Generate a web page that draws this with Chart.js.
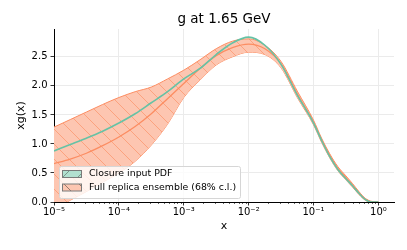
<!DOCTYPE html>
<html>
<head>
<meta charset="utf-8">
<script src="https://cdn.jsdelivr.net/npm/chart.js@4.4.0/dist/chart.umd.min.js"></script>
<style>
  html, body { margin: 0; padding: 0; background: #fff; }
  #wrap { width: 407px; height: 250px; }
</style>
</head>
<body>
<div id="wrap"><canvas id="pdf-chart" width="407" height="250"></canvas></div>
<script>
// x grid (log spaced)
const xValues = [1e-5, 1.78e-5, 3.16e-5, 5.62e-5, 1e-4, 1.78e-4, 3.16e-4, 5.62e-4,
  1e-3, 1.78e-3, 3.16e-3, 5.62e-3, 1e-2, 1.78e-2, 3.16e-2, 5.62e-2,
  0.1, 0.133, 0.178, 0.237, 0.316, 0.398, 0.501, 0.631, 0.794, 1.0];

const closurePdf = [0.88, 0.99, 1.10, 1.22, 1.36, 1.52, 1.71, 1.90,
  2.12, 2.30, 2.54, 2.74, 2.84, 2.70, 2.37, 1.84,
  1.36, 1.06, 0.78, 0.56, 0.40, 0.28, 0.15, 0.04, 0.0, 0.0];

const replicaMean = [0.66, 0.74, 0.84, 0.97, 1.12, 1.30, 1.52, 1.78,
  2.04, 2.30, 2.52, 2.66, 2.72, 2.64, 2.38, 1.86,
  1.37, 1.07, 0.80, 0.58, 0.42, 0.29, 0.16, 0.05, 0.0, 0.0];

const replicaUpper = [1.29, 1.42, 1.55, 1.68, 1.80, 1.90, 1.98, 2.12,
  2.27, 2.45, 2.64, 2.77, 2.81, 2.70, 2.42, 1.91,
  1.41, 1.10, 0.83, 0.61, 0.45, 0.32, 0.18, 0.06, 0.01, 0.0];

const replicaLower = [-0.12, 0.03, 0.18, 0.34, 0.50, 0.70, 0.98, 1.34,
  1.80, 2.10, 2.36, 2.50, 2.58, 2.54, 2.31, 1.80,
  1.33, 1.03, 0.76, 0.54, 0.38, 0.26, 0.13, 0.03, -0.01, -0.01];

const decadeTicks = [1e-5, 1e-4, 1e-3, 1e-2, 1e-1, 1];
const decadeLabels = ['10⁻⁵', '10⁻⁴', '10⁻³', '10⁻²', '10⁻¹', '10⁰'];
const yTicks = [0, 0.5, 1.0, 1.5, 2.0, 2.5];
const legendLabels = ['Closure input PDF', 'Full replica ensemble (68% c.l.)'];

const GREEN = '#66c2a5';
const ORANGE = '#fc8d62';
const FONT = '"DejaVu Sans", sans-serif';

function hatch(fill, stroke, dir) {
  const c = document.createElement('canvas');
  c.width = 15; c.height = 15;
  const g = c.getContext('2d');
  g.fillStyle = fill;
  g.fillRect(0, 0, 15, 15);
  g.strokeStyle = stroke;
  g.lineWidth = 0.8;
  g.beginPath();
  for (const off of [-15, 0, 15]) {
    if (dir === '\\') { g.moveTo(off, 0); g.lineTo(off + 15, 15); }
    else { g.moveTo(off, 15); g.lineTo(off + 15, 0); }
  }
  g.stroke();
  return document.getElementById('pdf-chart').getContext('2d').createPattern(c, 'repeat');
}

const bandFill = hatch('rgb(253,198,177)', 'rgba(252,141,98,0.8)', '\\');
const pts = arr => xValues.map((x, i) => ({ x: x, y: arr[i] }));

// title, axis labels, minor ticks and legend
const extras = {
  id: 'extras',
  afterDraw(chart) {
    const c = chart.ctx;
    const a = chart.chartArea;
    const xs = chart.scales.x;
    c.save();
    c.fillStyle = '#000';
    c.textAlign = 'center';
    c.textBaseline = 'middle';
    c.font = '13.5px ' + FONT;
    c.fillText('g at 1.65 GeV', (a.left + a.right) / 2, 19);
    c.font = '11px ' + FONT;
    c.fillText('x', (a.left + a.right) / 2, 226);
    c.save();
    c.translate(21, (a.top + a.bottom) / 2);
    c.rotate(-Math.PI / 2);
    c.fillText('xg(x)', 0, 0);
    c.restore();

    // minor log ticks
    c.strokeStyle = '#000';
    c.lineWidth = 0.6;
    c.beginPath();
    for (const d of decadeTicks) {
      for (let k = 2; k <= 9; k++) {
        const v = d * k;
        if (v > xs.max) continue;
        const px = Math.round(xs.getPixelForValue(v)) + 0.5;
        c.moveTo(px, a.bottom);
        c.lineTo(px, a.bottom + 2);
      }
    }
    c.stroke();

    // legend
    const lx = 59.5, ly = 166.5, lw = 181, lh = 32;
    c.fillStyle = 'rgba(255,255,255,0.8)';
    c.strokeStyle = '#d6d6d6';
    c.lineWidth = 1;
    c.beginPath();
    c.roundRect(lx, ly, lw, lh, 2);
    c.fill();
    c.stroke();
    const patches = [
      hatch('rgb(178,224,208)', 'rgba(102,120,110,0.9)', '/'),
      hatch('rgb(253,198,177)', 'rgba(110,90,80,0.9)', '\\')
    ];
    const rowY = [174, 187.5];
    c.font = '9.4px ' + FONT;
    c.textAlign = 'left';
    for (let i = 0; i < 2; i++) {
      c.fillStyle = patches[i];
      c.fillRect(62.5, rowY[i] - 3.5, 19, 7);
      c.strokeStyle = '#7a7a7a';
      c.strokeRect(62.5, rowY[i] - 3.5, 19, 7);
      c.fillStyle = '#000';
      c.fillText(legendLabels[i], 89, rowY[i]);
    }
    c.restore();
  }
};

new Chart(document.getElementById('pdf-chart'), {
  type: 'line',
  data: {
    datasets: [
      {
        label: 'upper',
        data: pts(replicaUpper),
        borderColor: ORANGE,
        borderWidth: 1,
        backgroundColor: bandFill,
        fill: '+1',
        order: 3
      },
      {
        label: 'lower',
        data: pts(replicaLower),
        borderColor: ORANGE,
        borderWidth: 1,
        fill: false,
        order: 3
      },
      {
        label: legendLabels[1],
        data: pts(replicaMean),
        borderColor: ORANGE,
        borderWidth: 1.3,
        fill: false,
        order: 2
      },
      {
        label: legendLabels[0],
        data: pts(closurePdf),
        borderColor: GREEN,
        borderWidth: 1.6,
        fill: false,
        order: 1
      }
    ]
  },
  options: {
    responsive: false,
    animation: false,
    devicePixelRatio: 1,
    elements: { point: { radius: 0 }, line: { cubicInterpolationMode: 'monotone' } },
    layout: { padding: { left: 0, right: 13, top: 29, bottom: 0 } },
    plugins: { legend: { display: false }, title: { display: false }, tooltip: { enabled: false } },
    scales: {
      x: {
        type: 'logarithmic',
        min: 1e-5,
        max: 1.74,
        afterBuildTicks: s => { s.ticks = decadeTicks.map(v => ({ value: v, major: true })); },
        afterFit: s => { s.height = 48; },
        ticks: {
          autoSkip: false,
          maxRotation: 0,
          padding: 1,
          color: '#000',
          font: { family: FONT, size: 10 },
          callback: v => decadeLabels[decadeTicks.indexOf(v)] || ''
        },
        grid: { color: '#ebebeb', lineWidth: 1, tickLength: 3.5, tickColor: '#000', tickWidth: 0.8 },
        border: { display: true, color: '#000', width: 1 }
      },
      y: {
        min: 0,
        max: 2.98,
        afterBuildTicks: s => { s.ticks = yTicks.map(v => ({ value: v })); },
        afterFit: s => { s.width = 54; },
        ticks: {
          padding: 3,
          color: '#000',
          font: { family: FONT, size: 10 },
          callback: v => v.toFixed(1)
        },
        grid: { color: '#ebebeb', lineWidth: 1, tickLength: 3.5, tickColor: '#000', tickWidth: 0.8 },
        border: { display: true, color: '#000', width: 1 }
      }
    }
  },
  plugins: [extras]
});
</script>
</body>
</html>
